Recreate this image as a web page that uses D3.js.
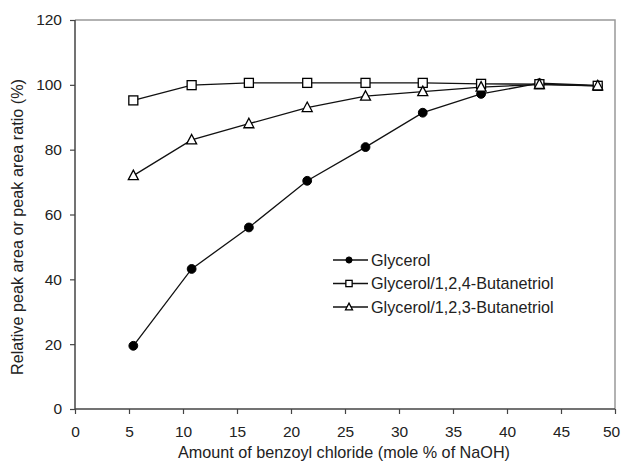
<!DOCTYPE html>
<html>
<head>
<meta charset="utf-8">
<script src="https://cdn.jsdelivr.net/npm/d3@7"></script>
<style>
  body { margin: 0; background: #fff; }
  svg text { font-family: "Liberation Sans", Arial, sans-serif; fill: #222; }
</style>
</head>
<body>
<svg id="chart" width="621" height="464"></svg>
<script>
var svg = d3.select("#chart");

// data
var xValues = [5.4, 10.8, 16.1, 21.5, 26.9, 32.2, 37.6, 43.0, 48.4];
var glycerol = [19.5, 43.2, 56.0, 70.4, 80.8, 91.4, 97.2, 100.5, 99.8];
var buta124 = [95.2, 99.9, 100.6, 100.6, 100.6, 100.6, 100.3, 100.2, 99.7];
var buta123 = [72.0, 83.0, 88.0, 93.0, 96.5, 97.9, 99.3, 100.1, 99.7];
var seriesNames = ["Glycerol", "Glycerol/1,2,4-Butanetriol", "Glycerol/1,2,3-Butanetriol"];
var xTicks = [0, 5, 10, 15, 20, 25, 30, 35, 40, 45, 50];
var yTicks = [0, 20, 40, 60, 80, 100, 120];

var plotLeft = 75, plotRight = 615, plotTop = 20, plotBottom = 409;

var xScale = d3.scaleLinear().domain([0, 50]).range([plotLeft, plotRight]);
var yScale = d3.scaleLinear().domain([0, 120]).range([plotBottom, plotTop]);

// frame (top/right)
svg.append("path")
  .attr("d", "M" + plotLeft + "," + plotTop + "H" + plotRight + "V" + plotBottom)
  .attr("fill", "none")
  .attr("stroke", "#999")
  .attr("stroke-width", 1.5);

var xAxis = d3.axisBottom(xScale).tickValues(xTicks).tickSize(5).tickPadding(12);
var yAxis = d3.axisLeft(yScale).tickValues(yTicks).tickSize(5).tickPadding(8);

var gx = svg.append("g")
  .attr("transform", "translate(0," + plotBottom + ")")
  .call(xAxis);
var gy = svg.append("g")
  .attr("transform", "translate(" + plotLeft + ",0)")
  .call(yAxis);

[gx, gy].forEach(function(g){
  g.select(".domain").attr("stroke", "#444").attr("stroke-width", 1.5);
  g.selectAll(".tick line").attr("stroke", "#444").attr("stroke-width", 1.2);
  g.selectAll(".tick text")
    .style("font-size", "15.5px")
    .style("font-family", "'Liberation Sans', Arial, sans-serif")
    .attr("fill", "#222");
});
gx.select(".domain").attr("d", "M" + plotLeft + ",0H" + plotRight);
gy.select(".domain").attr("d", "M0," + plotTop + "V" + plotBottom);
// last label sits at the page edge, nudge it in
gx.selectAll(".tick text").filter(function(d){ return d == 50; }).attr("dx", -4);

// axis titles
svg.append("text")
  .attr("x", 344)
  .attr("y", 458)
  .attr("text-anchor", "middle")
  .style("font-size", "16.2px")
  .text("Amount of benzoyl chloride (mole % of NaOH)");

svg.append("text")
  .attr("transform", "translate(23,227) rotate(-90)")
  .attr("text-anchor", "middle")
  .style("font-size", "16.2px")
  .text("Relative peak area or peak area ratio (%)");

var line = d3.line()
  .x(function(d){ return xScale(d.x); })
  .y(function(d){ return yScale(d.y); });

function toPoints(vals){
  return xValues.map(function(x, i){ return {x: x, y: vals[i]}; });
}

var allSeries = [
  {name: seriesNames[0], values: glycerol, marker: "circle"},
  {name: seriesNames[1], values: buta124, marker: "square"},
  {name: seriesNames[2], values: buta123, marker: "triangle"}
];

function drawMarker(g, type, cx, cy, k){
  if(type == "circle"){
    g.append("circle").attr("cx", cx).attr("cy", cy).attr("r", 4.4 * k)
      .attr("fill", "#000").attr("stroke", "#000");
  } else if(type == "square"){
    var h = 4.5 * k;
    g.append("rect").attr("x", cx - h).attr("y", cy - h)
      .attr("width", 2 * h).attr("height", 2 * h)
      .attr("fill", "#fff").attr("stroke", "#000").attr("stroke-width", 1.3);
  } else {
    g.append("path")
      .attr("d", "M" + cx + "," + (cy - 5.5 * k) + "L" + (cx + 5 * k) + "," + (cy + 4 * k) + "L" + (cx - 5 * k) + "," + (cy + 4 * k) + "Z")
      .attr("fill", "#fff").attr("stroke", "#000").attr("stroke-width", 1.3);
  }
}

// lines first, then markers on top
allSeries.forEach(function(s){
  svg.append("path")
    .datum(toPoints(s.values))
    .attr("d", line)
    .attr("fill", "none")
    .attr("stroke", "#111")
    .attr("stroke-width", 1.3);
});
allSeries.forEach(function(s){
  var g = svg.append("g");
  toPoints(s.values).forEach(function(p){
    drawMarker(g, s.marker, xScale(p.x), yScale(p.y), 1);
  });
});

// legend
var legX = 333, legY = 260, legStep = 23.5;
allSeries.forEach(function(s, i){
  var y = legY + i * legStep;
  var g = svg.append("g");
  g.append("line")
    .attr("x1", legX).attr("x2", legX + 35)
    .attr("y1", y).attr("y2", y)
    .attr("stroke", "#111").attr("stroke-width", 1.3);
  drawMarker(g, s.marker, legX + 16, y, 0.7);
  g.append("text")
    .attr("x", legX + 38)
    .attr("y", y)
    .attr("dy", "0.35em")
    .style("font-size", "16.2px")
    .text(s.name);
});
</script>
</body>
</html>
